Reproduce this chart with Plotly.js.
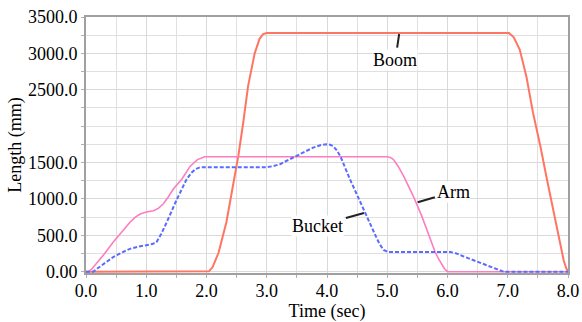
<!DOCTYPE html>
<html>
<head>
<meta charset="utf-8">
<script src="https://cdn.plot.ly/plotly-3.0.1.min.js"></script>
<style>html,body{margin:0;padding:0;background:#fff;}#chart{width:582px;height:322px;}</style>
</head>
<body>
<div id="chart"></div>
<script>
// Time (sec) and length (mm) values
const boomTime  = [0, 2.0, 2.04, 2.1, 2.2, 2.33, 2.45, 2.53, 2.61, 2.69, 2.8, 2.88, 2.94, 3.0, 7.02, 7.1, 7.2, 7.31, 7.42, 7.54, 7.65, 7.76, 7.87, 7.93, 7.97, 8.0];
const boomLen   = [0, 0, 5, 60, 260, 680, 1200, 1600, 2050, 2550, 3000, 3200, 3265, 3280, 3280, 3220, 3050, 2680, 2180, 1730, 1270, 820, 360, 150, 50, 0];

const armTime   = [0, 0.04, 0.1, 0.2, 0.3, 0.45, 0.6, 0.73, 0.82, 0.9, 1.0, 1.12, 1.2, 1.28, 1.36, 1.45, 1.59, 1.73, 1.85, 1.92, 1.97, 5.0, 5.05, 5.10, 5.18, 5.27, 5.43, 5.57, 5.71, 5.79, 5.85, 5.91, 5.95, 6.0, 8.0];
const armLen    = [0, 0, 40, 133, 240, 406, 560, 680, 750, 793, 820, 838, 870, 930, 1020, 1135, 1271, 1450, 1540, 1570, 1580, 1580, 1570, 1545, 1450, 1317, 1043, 770, 451, 280, 178, 90, 40, 0, 0];

const bucketTime = [0, 0.12, 0.2, 0.3, 0.45, 0.6, 0.73, 0.88, 1.01, 1.1, 1.17, 1.25, 1.34, 1.51, 1.67, 1.75, 1.82, 1.88, 1.94, 3.0, 3.1, 3.22, 3.38, 3.55, 3.77, 3.9, 3.99, 4.05, 4.10, 4.16, 4.22, 4.38, 4.55, 4.66, 4.75, 4.83, 4.88, 4.94, 5.0, 5.05, 6.05, 6.15, 6.25, 6.37, 6.5, 6.65, 6.8, 6.93, 8.0];
const bucketLen  = [0, 0, 50, 110, 200, 265, 314, 345, 360, 380, 406, 520, 680, 998, 1271, 1360, 1410, 1430, 1436, 1436, 1450, 1477, 1545, 1613, 1705, 1740, 1750, 1745, 1727, 1670, 1590, 1272, 953, 770, 600, 451, 370, 300, 275, 270, 270, 250, 215, 178, 130, 86, 35, 0, 0];

const xTickVals = [0, 1, 2, 3, 4, 5, 6, 7, 8];
const xTickText = ["0.0", "1.0", "2.0", "3.0", "4.0", "5.0", "6.0", "7.0", "8.0"];
const yTickVals = [0, 500, 1000, 1500, 2500, 3000, 3500];
const yTickText = ["0.00", "500.0", "1000.0", "1500.0", "2500.0", "3000.0", "3500.0"];

const labels = ["Boom", "Arm", "Bucket"];
const labelTime = [5.2, 5.49, 4.63];
const labelLen = [3280, 950, 810];

const serifFont = "Liberation Serif";
const fs = 18;

const traces = [
  {x: boomTime, y: boomLen, mode: 'lines', line: {color: '#ff7563', width: 2}, cliponaxis: false},
  {x: armTime, y: armLen, mode: 'lines', line: {color: '#ff7cc0', width: 1.6}, cliponaxis: false},
  {x: bucketTime, y: bucketLen, mode: 'lines', line: {color: '#5a6cff', width: 2, dash: '4px,2px'}, cliponaxis: false}
];

const offsets = [[-4, 27], [37, -11], [-47, 13]];
const annotations = labels.map((t, i) => ({
  x: labelTime[i], y: labelLen[i], xref: 'x', yref: 'y', text: t,
  showarrow: true, arrowhead: 0, arrowwidth: 2, arrowcolor: '#222',
  ax: offsets[i][0], ay: offsets[i][1], standoff: 1, startstandoff: 2,
  bgcolor: '#ffffff', borderpad: 0,
  font: {family: serifFont, size: fs, color: '#000000'}
}));

const layout = {
  width: 582, height: 322,
  margin: {l: 86, r: 14, t: 17, b: 49},
  paper_bgcolor: '#ffffff', plot_bgcolor: '#ffffff',
  showlegend: false,
  font: {family: serifFont, size: fs, color: '#000000'},
  xaxis: {
    range: [0, 8], tickvals: xTickVals, ticktext: xTickText,
    showgrid: true, gridcolor: '#d9d9d9', gridwidth: 1,
    zeroline: false, showline: true, linecolor: '#a0a0a0', linewidth: 2, mirror: true,
    ticks: '',
    minor: {dtick: 0.5, tick0: 0, showgrid: true, gridcolor: '#e0e0e0', ticks: 'outside', ticklen: 3, tickcolor: '#b0b0b0'},
    tickfont: {family: serifFont, size: fs, color: '#000000'},
    title: {text: 'Time (sec)', font: {family: serifFont, size: fs, color: '#000000'}, standoff: 6}
  },
  yaxis: {
    range: [-18, 3500], tickvals: yTickVals, ticktext: yTickText,
    showgrid: true, gridcolor: '#d9d9d9', gridwidth: 1,
    zeroline: false, showline: true, linecolor: '#a0a0a0', linewidth: 2, mirror: true,
    ticks: 'outside', ticklen: 3, tickcolor: '#b0b0b0',
    minor: {dtick: 250, tick0: 0, showgrid: true, gridcolor: '#e0e0e0', ticks: 'outside', ticklen: 3, tickcolor: '#b0b0b0'},
    tickfont: {family: serifFont, size: fs, color: '#000000'},
    title: {text: 'Length (mm)', font: {family: serifFont, size: fs, color: '#000000'}, standoff: 2}
  },
  annotations: annotations
};

Plotly.newPlot('chart', traces, layout, {displayModeBar: false, staticPlot: true});
</script>
</body>
</html>
